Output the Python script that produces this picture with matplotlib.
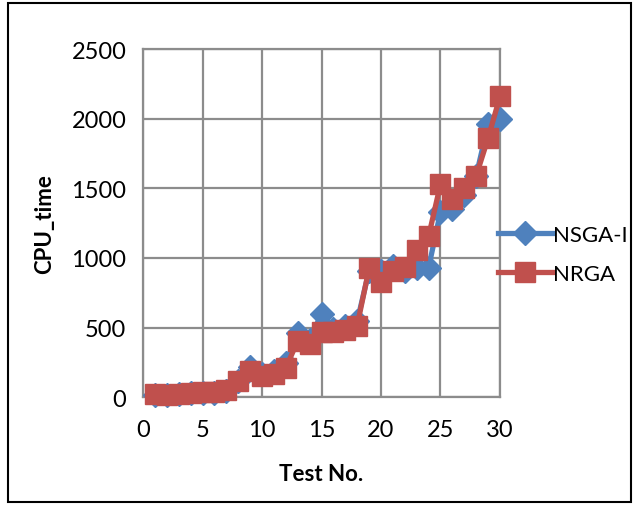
import matplotlib.pyplot as plt
from matplotlib.patches import Rectangle

test_no = list(range(1, 31))
nsga = [18, 14, 22, 27, 32, 32, 47, 115, 215, 170, 190, 245, 460, 410, 600,
        490, 510, 545, 910, 910, 945, 905, 930, 930, 1330, 1350, 1450, 1590,
        1960, 2000]
nrga = [20, 15, 25, 30, 35, 35, 50, 120, 190, 155, 170, 210, 405, 385, 465,
        465, 480, 515, 925, 830, 910, 935, 1060, 1155, 1530, 1425, 1505, 1590,
        1860, 2160]

plt.rcParams['font.family'] = ['Lato', 'DejaVu Sans']

fig = plt.figure(figsize=(6.34, 5.06), dpi=100)
ax = fig.add_axes([0.2256, 0.213, 0.563, 0.688])

ax.plot(test_no, nsga, color='#4F81BD', lw=3.8, marker='D', ms=12,
        label='NSGA-I', zorder=3, clip_on=False)
ax.plot(test_no, nrga, color='#C0504D', lw=3.8, marker='s', ms=15,
        label='NRGA', zorder=4, clip_on=False)

ax.set_xlim(0, 30)
ax.set_ylim(0, 2500)
ax.set_xticks(range(0, 31, 5))
ax.set_yticks(range(0, 2501, 500))
ax.grid(True, color='#8c8c8c', lw=1.6)
ax.set_axisbelow(True)
for s in ax.spines.values():
    s.set_color('#8c8c8c')
    s.set_linewidth(1.6)
ax.tick_params(length=0, labelsize=17)
ax.tick_params(axis='x', pad=16)
ax.tick_params(axis='y', pad=12)
ax.set_xlabel('Test No.', fontsize=16, fontweight='bold', labelpad=16)
ax.set_ylabel('CPU_time', fontsize=16, fontweight='bold', labelpad=12)

ax.legend(loc='center left', bbox_to_anchor=(0.995, 0.41), frameon=False,
          fontsize=16, handlelength=2.4, handletextpad=0.05,
          labelspacing=0.85, borderpad=0, borderaxespad=0)

fig.patches.append(Rectangle((8 / 634, 3 / 506), 623 / 634, 499 / 506,
                             transform=fig.transFigure, fill=False,
                             edgecolor='black', lw=1.5))

fig.savefig('out.png', dpi=100)
